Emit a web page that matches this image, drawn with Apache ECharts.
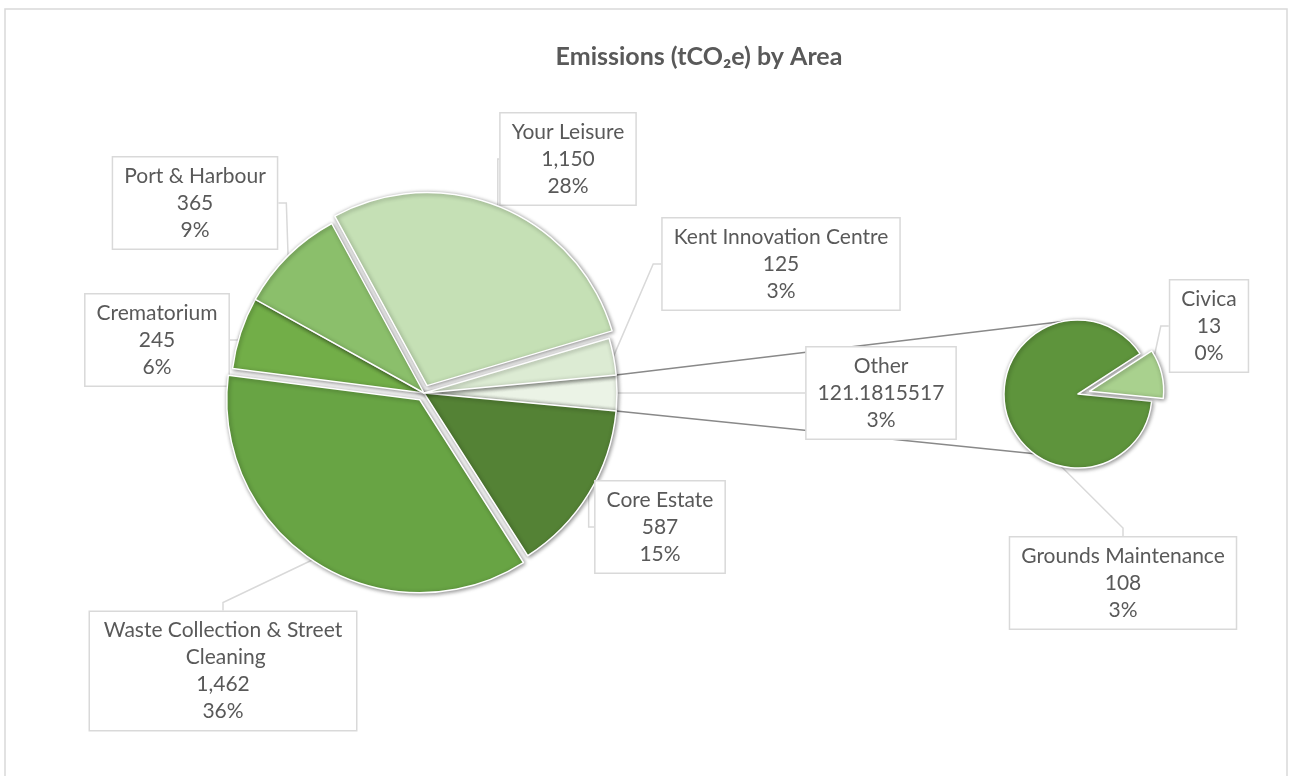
<!DOCTYPE html>
<html>
<head>
<meta charset="utf-8">
<script src="https://cdn.jsdelivr.net/npm/echarts@6/dist/echarts.min.js"></script>
<style>
  html, body { margin: 0; padding: 0; background: #fff; }
  #output { width: 1289px; height: 776px; }
</style>
</head>
<body>
<div id="output"></div>
<script>
const chart = echarts.init(document.getElementById('output'));

// main pie, clockwise after the split-off "Other" slice
const mainNames = ['Core Estate', 'Waste Collection & Street Cleaning', 'Crematorium', 'Port & Harbour', 'Your Leisure', 'Kent Innovation Centre']
const mainValues = [587, 1462, 245, 365, 1150, 125]
// second pie (makes up "Other")
const subNames = ['Civica', 'Grounds Maintenance']
const subValues = [13, 108.1815517]
const exploded = ['Your Leisure', 'Waste Collection & Street Cleaning', 'Civica']

const otherValue = subValues.reduce((a, b) => a + b, 0)
const total = mainValues.reduce((a, b) => a + b, 0) + otherValue

const colors = {
  'Other': '#EBF3E6',
  'Core Estate': '#548235',
  'Waste Collection & Street Cleaning': '#68A444',
  'Crematorium': '#72AE48',
  'Port & Harbour': '#8BBF6B',
  'Your Leisure': '#C5E0B5',
  'Kent Innovation Centre': '#DCEBD3',
  'Civica': '#A9D18E',
  'Grounds Maintenance': '#5E943C'
}

// centres of the label boxes
const labelPos = {
  'Other': [881, 393],
  'Core Estate': [660, 527],
  'Waste Collection & Street Cleaning': [223, 671],
  'Crematorium': [157, 340],
  'Port & Harbour': [195, 203],
  'Your Leisure': [568, 159],
  'Kent Innovation Centre': [781, 264],
  'Civica': [1209, 326],
  'Grounds Maintenance': [1123, 583]
}

const mainC = [424, 393]
const mainR = 193
const subC = [1078, 394]
const subR = 74

const otherHalf = otherValue / total * 180

function fmtValue (name, v) {
  if (name === 'Other') return String(+v.toFixed(7))
  return Math.round(v).toLocaleString('en-US')
}

const labelStyle = {
  show: true,
  position: 'outside',
  color: '#595959',
  fontFamily: 'Lato',
  fontSize: 21,
  lineHeight: 27,
  backgroundColor: '#fff',
  borderColor: '#D9D9D9',
  borderWidth: 1.5,
  padding: [5, 11]
}

const itemStyle = {
  borderColor: '#fff',
  borderWidth: 1.5,
  shadowBlur: 4,
  shadowColor: 'rgba(0,0,0,0.45)',
  shadowOffsetX: 1,
  shadowOffsetY: 1
}

const hidden = {
  color: 'rgba(0,0,0,0)',
  borderWidth: 0,
  shadowBlur: 0,
  shadowOffsetX: 0,
  shadowOffsetY: 0,
  shadowColor: 'rgba(0,0,0,0)'
}

const labelLine = {
  show: true,
  length: 8,
  length2: 8,
  lineStyle: { color: '#D9D9D9', width: 1.5 }
}

// two layers per pie: the base one carries labels, the top one draws exploded slices
function pieSeries (names, values, center, radius, startAngle, offset, formatter) {
  const common = {
    type: 'pie',
    center,
    radius,
    startAngle,
    clockwise: true,
    percentPrecision: 0,
    avoidLabelOverlap: false,
    emphasis: { scale: false },
    itemStyle
  }
  const base = Object.assign({}, common, {
    label: Object.assign({}, labelStyle, { formatter }),
    labelLine,
    labelLayout: params => {
      const p = labelPos[names[params.dataIndex]]
      return { x: p[0], y: p[1], align: 'center', verticalAlign: 'middle' }
    },
    data: names.map((name, i) => {
      const item = {
        name,
        value: values[i],
        itemStyle: exploded.includes(name) ? hidden : { color: colors[name] }
      }
      if (name.length > 28) item.label = { width: 244, overflow: 'break' }
      return item
    })
  })
  const top = Object.assign({}, common, {
    silent: true,
    selectedMode: 'multiple',
    selectedOffset: offset,
    label: { show: false },
    labelLine: { show: false },
    data: names.map((name, i) => ({
      name,
      value: values[i],
      selected: exploded.includes(name),
      itemStyle: exploded.includes(name) ? { color: colors[name] } : hidden
    }))
  })
  return [base, top]
}

// series lines from the "Other" slice to the second pie
const rad = Math.PI / 180
const upperStart = [mainC[0] + mainR * Math.cos(otherHalf * rad), mainC[1] - mainR * Math.sin(otherHalf * rad)]
const lowerStart = [mainC[0] + mainR * Math.cos(otherHalf * rad), mainC[1] + mainR * Math.sin(otherHalf * rad)]
const upperEnd = [subC[0] + subR * Math.cos(102 * rad), subC[1] - subR * Math.sin(102 * rad)]
const lowerEnd = [subC[0] + subR * Math.cos(-126 * rad), subC[1] - subR * Math.sin(-126 * rad)]

const mainSeries = pieSeries(
  ['Other'].concat(mainNames), [otherValue].concat(mainValues),
  mainC, mainR, otherHalf, 8,
  p => p.name + '\n' + fmtValue(p.name, p.value) + '\n' + p.percent + '%'
)
const subSeries = pieSeries(
  subNames, subValues, subC, subR, 33, 12,
  p => p.name + '\n' + fmtValue(p.name, p.value) + '\n' + Math.round(p.value / total * 100) + '%'
)

chart.setOption({
  animation: false,
  graphic: [
    {
      type: 'rect',
      shape: { x: 5, y: 9, width: 1282, height: 800 },
      style: { fill: 'none', stroke: '#D9D9D9', lineWidth: 1.5 },
      silent: true
    },
    {
      type: 'text',
      x: 699,
      y: 57,
      style: {
        text: 'Emissions (tCO₂e) by Area',
        align: 'center',
        verticalAlign: 'middle',
        fill: '#595959',
        font: 'bold 25px Lato'
      }
    },
    {
      type: 'line',
      shape: { x1: upperStart[0], y1: upperStart[1], x2: upperEnd[0], y2: upperEnd[1] },
      style: { stroke: '#898989', lineWidth: 1.5 },
      z: 0
    },
    {
      type: 'line',
      shape: { x1: lowerStart[0], y1: lowerStart[1], x2: lowerEnd[0], y2: lowerEnd[1] },
      style: { stroke: '#898989', lineWidth: 1.5 },
      z: 0
    }
  ],
  series: mainSeries.concat(subSeries)
})
</script>
</body>
</html>
